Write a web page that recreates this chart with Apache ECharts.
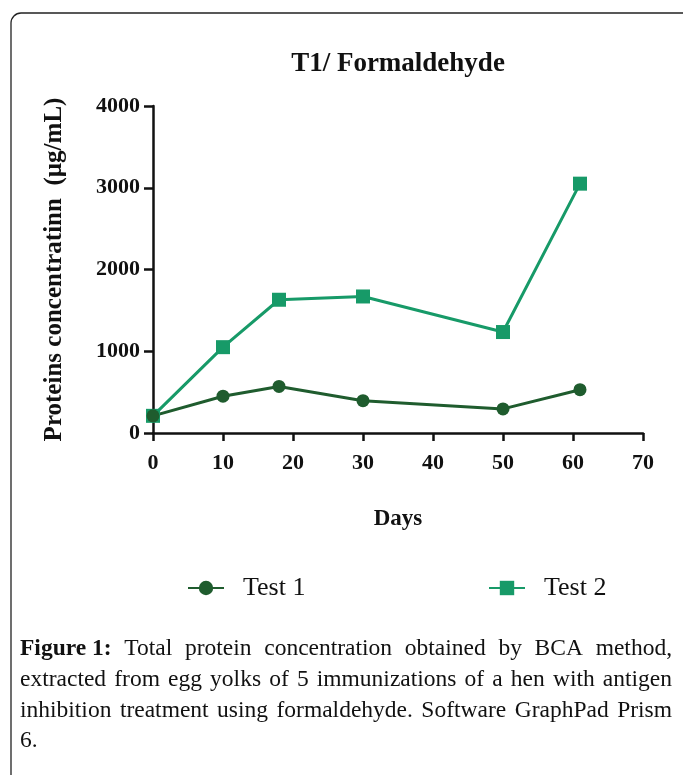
<!DOCTYPE html>
<html>
<head>
<meta charset="utf-8">
<script src="https://cdn.jsdelivr.net/npm/echarts@6/dist/echarts.min.js"></script>
<style>
html,body{margin:0;padding:0;background:#fff;}
#chart{width:683px;height:775px;}
</style>
</head>
<body>
<div id="chart"></div>
<script>
// ---- data ----
var days = [0, 10, 18, 30, 50, 61];
var test1 = [210, 450, 570, 395, 295, 530];
var test2 = [210, 1050, 1630, 1670, 1235, 3050];
var seriesNames = ['Test 1', 'Test 2'];
var titleText = 'T1/ Formaldehyde';
var xAxisName = 'Days';
var yAxisName = 'Proteins concentratinn  (\u00b5g/mL)';
var captionBold = 'Figure 1:';
var captionLines = [
  'Total protein concentration obtained by BCA method,',
  'extracted from egg yolks of 5 immunizations of a hen with antigen',
  'inhibition treatment using formaldehyde. Software GraphPad Prism',
  '6.'
];

var serif = '"Liberation Serif", "Times New Roman", serif';
var capFont = '"Liberation Serif", "Times New Roman", serif';
var c1 = '#1f5c2e', c2 = '#179a68';

function pairs(xs, ys) { return xs.map(function (x, i) { return [x, ys[i]]; }); }

// justified caption via measured words
var cv = document.createElement('canvas').getContext('2d');
var capLeft = 20, capRight = 672, capTop = 651, capLH = 30.8;
function measureAt(t, bold, size) { cv.font = (bold ? 'bold ' : '') + size + 'px ' + capFont; return cv.measureText(t).width; }
// choose size so the second line fits the column with natural spaces
var capSize = 22;
(function () {
  var w = measureAt(captionLines[1], false, 20);
  capSize = Math.min(23.5, Math.max(18, 20 * (capRight - capLeft - 4) / w));
})();
var capEls = [];
captionLines.forEach(function (line, li) {
  var words = line.split(' ').map(function (w) { return { t: w, b: false }; });
  if (li === 0) words.unshift({ t: captionBold, b: true });
  var y = capTop + li * capLH;
  var widths = words.map(function (w) { return measureAt(w.t, w.b, capSize); });
  var total = widths.reduce(function (a, b) { return a + b; }, 0);
  var justify = li < captionLines.length - 1 && words.length > 1;
  var gap = justify ? (capRight - capLeft - total) / (words.length - 1) : measureAt(' ', false, capSize);
  var x = capLeft;
  words.forEach(function (w, i) {
    capEls.push({
      type: 'text', left: x, top: y - capSize * 0.6,
      style: { text: w.t, font: (w.b ? 'bold ' : '') + capSize + 'px ' + capFont, fill: '#111' }
    });
    x += widths[i] + gap;
  });
});

var chart = echarts.init(document.getElementById('chart'));
var axisLine = { lineStyle: { color: '#111', width: 2.5 } };
var tickFont = { fontFamily: serif, fontWeight: 'bold', fontSize: 22, color: '#111' };
var option = {
  backgroundColor: '#fff',
  animation: false,
  title: {
    text: titleText, left: 393, top: 46, textAlign: 'center',
    textStyle: { fontFamily: serif, fontWeight: 'bold', fontSize: 27, color: '#111' }
  },
  grid: { left: 153, right: 40, top: 106, bottom: 342, containLabel: false },
  legend: [
    {
      data: [seriesNames[0]], left: 187, top: 575, padding: 0, itemWidth: 36, itemHeight: 18,
      textStyle: { fontFamily: serif, fontSize: 26, color: '#111', padding: [0, 0, 0, 14] }
    },
    {
      data: [seriesNames[1]], left: 488, top: 575, padding: 0, itemWidth: 36, itemHeight: 18,
      textStyle: { fontFamily: serif, fontSize: 26, color: '#111', padding: [0, 0, 0, 14] }
    }
  ],
  xAxis: {
    type: 'value', min: 0, max: 70, interval: 10,
    name: xAxisName, nameLocation: 'middle', nameGap: 75,
    nameTextStyle: { fontFamily: serif, fontWeight: 'bold', fontSize: 23, color: '#111' },
    axisLine: axisLine,
    axisTick: { show: true, length: 8, lineStyle: { color: '#111', width: 2.5 } },
    axisLabel: Object.assign({ margin: 19 }, tickFont),
    splitLine: { show: false }
  },
  yAxis: {
    type: 'value', min: 0, max: 4000, interval: 1000,
    name: yAxisName, nameLocation: 'middle', nameGap: 86,
    nameTextStyle: { fontFamily: serif, fontWeight: 'bold', fontSize: 25, color: '#111' },
    axisLine: Object.assign({ show: true }, axisLine),
    axisTick: { show: true, length: 9, lineStyle: { color: '#111', width: 2.5 } },
    axisLabel: Object.assign({ margin: 13, formatter: function (v) { return String(v); } }, tickFont),
    splitLine: { show: false }
  },
  series: [
    {
      name: seriesNames[1], type: 'line', data: pairs(days, test2),
      symbol: 'rect', symbolSize: 14,
      lineStyle: { color: c2, width: 3 }, itemStyle: { color: c2 }
    },
    {
      name: seriesNames[0], type: 'line', data: pairs(days, test1),
      symbol: 'circle', symbolSize: 13,
      lineStyle: { color: c1, width: 3 }, itemStyle: { color: c1 }
    }
  ],
  graphic: [
    {
      type: 'rect', silent: true,
      shape: { x: 11, y: 13, width: 690, height: 800, r: 10 },
      style: { fill: null, stroke: '#222', lineWidth: 1.3 }
    }
  ].concat(capEls)
};
chart.setOption(option);
</script>
</body>
</html>
